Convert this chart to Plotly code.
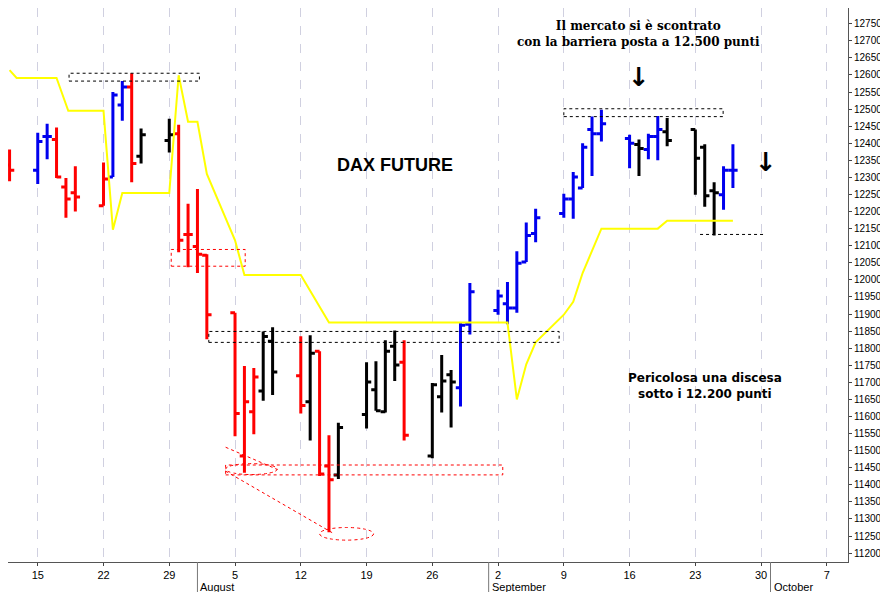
import plotly.graph_objects as go

dates = ["2019-07-12","2019-07-15","2019-07-16","2019-07-17","2019-07-18","2019-07-19",
 "2019-07-22","2019-07-23","2019-07-24","2019-07-25","2019-07-26","2019-07-29","2019-07-30",
 "2019-07-31","2019-08-01","2019-08-02","2019-08-05","2019-08-06","2019-08-07","2019-08-08",
 "2019-08-09","2019-08-12","2019-08-13","2019-08-14","2019-08-15","2019-08-16","2019-08-19",
 "2019-08-20","2019-08-21","2019-08-22","2019-08-23","2019-08-26","2019-08-27","2019-08-28",
 "2019-08-29","2019-08-30","2019-09-02","2019-09-03","2019-09-04","2019-09-05","2019-09-06",
 "2019-09-09","2019-09-10","2019-09-11","2019-09-12","2019-09-13","2019-09-16","2019-09-17",
 "2019-09-18","2019-09-19","2019-09-20","2019-09-23","2019-09-24","2019-09-25","2019-09-26",
 "2019-09-27"]
opens  = [12336,12321,12420,12411,12272,12255,12217,12301,12512,12565,12362,12408,12428,
 12133,12098,12072,11904,11484,11614,11675,11820,11719,11643,11791,11455,11429,11606,11678,
 11614,11806,11759,11484,11658,11722,11684,11870,11910,11930,11918,12052,12136,12194,12237,
 12269,12440,12428,12414,12396,12382,12420,12434,12440,12388,12261,12249,12321]
highs  = [12382,12431,12457,12446,12298,12333,12344,12550,12582,12605,12443,12472,12454,
 12223,12266,12075,11904,11748,11742,11849,11861,11835,11838,11791,11545,11582,11759,11762,
 11823,11852,11823,11698,11780,11736,11875,11991,11971,11994,12084,12168,12208,12252,12316,
 12400,12478,12498,12425,12411,12428,12480,12474,12440,12397,12286,12333,12397]
lows   = [12289,12281,12353,12298,12182,12200,12217,12301,12466,12286,12341,12373,12081,
 12037,12020,11826,11542,11435,11548,11646,11663,11609,11530,11426,11261,11417,11565,11617,
 11612,11704,11530,11478,11612,11568,11629,11840,11898,11870,11904,12052,12110,12182,12179,
 12269,12304,12405,12327,12304,12353,12350,12391,12249,12214,12130,12205,12269]
closes = [12321,12405,12420,12301,12237,12243,12295,12541,12565,12341,12425,12425,12116,
 12133,12075,11898,11609,11643,11716,11834,11730,11632,11785,11432,11415,11568,11701,11617,
 11791,11751,11545,11693,11704,11701,11867,11965,11953,11918,12049,12130,12182,12237,12301,
 12388,12428,12457,12400,12385,12420,12440,12408,12356,12246,12255,12321,12321]
colors = ["r","b","b","r","r","r","r","b","b","r","k","k","r","r","r","r","r","r","r","k",
 "k","r","k","r","r","k","k","k","k","k","r","k","k","k","b","b","b","b","b","b","b","b","b",
 "b","b","b","b","k","b","b","k","k","k","k","b","b"]

stop_dates = ["2019-07-12","2019-07-12 18:00","2019-07-17","2019-07-18 06:00","2019-07-22",
 "2019-07-23","2019-07-24","2019-07-29","2019-07-30","2019-07-31","2019-08-01","2019-08-02",
 "2019-08-05","2019-08-06","2019-08-12","2019-08-15","2019-09-02","2019-09-03","2019-09-04",
 "2019-09-05","2019-09-06","2019-09-09","2019-09-10","2019-09-11","2019-09-13","2019-09-19",
 "2019-09-20","2019-09-27"]
stop_vals = [12614,12591,12591,12495,12495,12147,12254,12254,12599,12463,12463,12310,12116,
 12014,12014,11875,11875,11875,11650,11753,11817,11898,11936,12020,12150,12150,12173,12173]

cmap = {"r": "#ff0000", "b": "#0000ee", "k": "#000000"}
fig = go.Figure()
for key, col in cmap.items():
    idx = [i for i, c in enumerate(colors) if c == key]
    fig.add_trace(go.Ohlc(
        x=[dates[i] for i in idx], open=[opens[i] for i in idx], high=[highs[i] for i in idx],
        low=[lows[i] for i in idx], close=[closes[i] for i in idx],
        increasing=dict(line=dict(color=col, width=3)),
        decreasing=dict(line=dict(color=col, width=3)),
        tickwidth=0.5, showlegend=False, hoverinfo="skip"))
fig.add_trace(go.Scatter(x=stop_dates, y=stop_vals, mode="lines",
                         line=dict(color="#ffff00", width=2), showlegend=False))

def rect(x0, x1, y0, y1, col):
    fig.add_shape(type="rect", x0=x0, x1=x1, y0=y0, y1=y1,
                  line=dict(color=col, width=1, dash="dot"), layer="above")
rect("2019-07-18 08:00", "2019-08-01 05:00", 12582, 12605, "black")
rect("2019-07-29 05:00", "2019-08-06 02:00", 12040, 12089, "red")
rect("2019-08-02 05:00", "2019-09-08 12:00", 11817, 11849, "black")
rect("2019-08-04 00:00", "2019-09-02 12:00", 11429, 11458, "red")
rect("2019-09-09 00:00", "2019-09-25 23:00", 12478, 12501, "black")
fig.add_shape(type="line", x0="2019-09-23 12:00", x1="2019-09-30 06:00", y0=12133, y1=12133,
              line=dict(color="black", width=1, dash="dot"))
fig.add_shape(type="circle", x0="2019-08-14 00:00", x1="2019-08-19 18:00", y0=11238, y1=11275,
              line=dict(color="red", width=1, dash="dot"))
fig.add_shape(type="circle", x0="2019-08-04 00:00", x1="2019-08-09 12:00", y0=11430, y1=11462,
              line=dict(color="red", width=1, dash="dot"))
fig.add_shape(type="line", x0="2019-08-04 00:00", x1="2019-08-15 08:00", y0=11440, y1=11260,
              line=dict(color="red", width=1, dash="dot"))
fig.add_shape(type="line", x0="2019-08-04 00:00", x1="2019-08-09 12:00", y0=11510, y1=11445,
              line=dict(color="red", width=1, dash="dot"))

for d in ["2019-08-01", "2019-09-01", "2019-10-01"]:
    fig.add_shape(type="line", xref="x", yref="paper", x0=d, x1=d, y0=0, y1=-0.065,
                  line=dict(color="#777", width=1))
for d, t in [("2019-08-01", "August"), ("2019-09-01", "September"), ("2019-10-01", "October")]:
    fig.add_annotation(x=d, y=0, yref="paper", text=t, showarrow=False, xanchor="left",
                       yanchor="top", yshift=-17, xshift=1,
                       font=dict(family="Liberation Sans", size=11, color="black"))

fig.add_annotation(x="2019-08-22", y=12336, text="<b>DAX FUTURE</b>", showarrow=False,
                   font=dict(family="Arial", size=18, color="black"))
fig.add_annotation(x="2019-09-17", y=12720, text="<b>Il mercato si è scontrato<br>con la barriera posta a 12.500 punti</b>",
                   showarrow=False, font=dict(family="DejaVu Serif", size=12, color="black"))
fig.add_annotation(x="2019-09-24", y=11690, text="<b>Pericolosa una discesa<br>sotto i 12.200 punti</b>",
                   showarrow=False, font=dict(family="DejaVu Sans", size=12, color="black"))
for d, yv in [("2019-09-17", 12595), ("2019-09-30 12:00", 12345)]:
    fig.add_annotation(x=d, y=yv, text="<b>↓</b>", showarrow=False,
                       font=dict(family="DejaVu Sans", size=26, color="black"))

week = ["2019-07-15","2019-07-22","2019-07-29","2019-08-05","2019-08-12","2019-08-19",
        "2019-08-26","2019-09-02","2019-09-09","2019-09-16","2019-09-23","2019-09-30","2019-10-07"]
week_lbl = ["15","22","29","5","12","19","26","2","9","16","23","30","7"]
fig.update_layout(
    width=888, height=592, margin=dict(l=0, r=48, t=0, b=38),
    plot_bgcolor="white", paper_bgcolor="white",
    font=dict(family="Liberation Sans", size=11, color="black"),
    xaxis=dict(type="date", range=["2019-07-11 20:00", "2019-10-09 06:00"],
               rangeslider=dict(visible=False), tickvals=week, ticktext=week_lbl,
               showgrid=True, gridcolor="#d0d0e0", griddash="dash", gridwidth=1,
               ticks="outside", ticklen=3, showline=True, linecolor="#555", mirror=True,
               automargin=False),
    yaxis=dict(side="right", range=[11174, 12796], dtick=50, tick0=11200, showgrid=False,
               tickformat="d", ticks="outside", ticklen=3, showline=True, linecolor="#555",
               mirror=True, zeroline=False, tickfont=dict(size=10), automargin=False),
)
fig.write_html("out.html")
